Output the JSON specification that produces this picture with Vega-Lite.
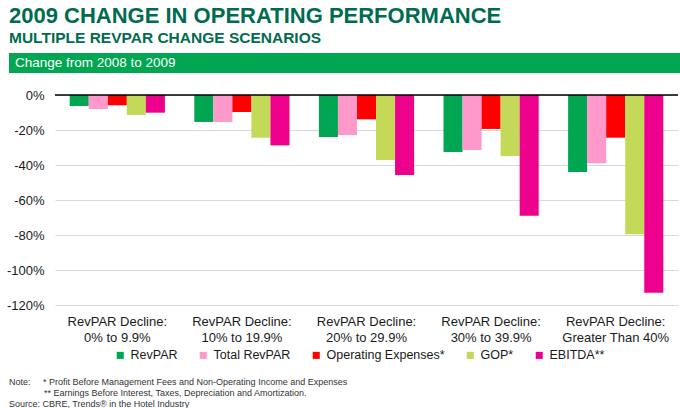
{
  "$schema": "https://vega.github.io/schema/vega-lite/v6.json",
  "padding": {"left": 6, "top": 4, "right": 0, "bottom": 0},
  "background": "white",
  "columns": 1,
  "align": "none",
  "spacing": 16,
  "resolve": {"scale": {"color": "independent", "x": "independent", "y": "independent"}, "legend": {"color": "independent"}},
  "config": {
    "font": "Liberation Sans",
    "view": {"stroke": null},
    "text": {"font": "Liberation Sans"}
  },
  "datasets": {
    "perf": [
      {"scenario": "0% to 9.9%", "measure": "RevPAR", "value": -6.3},
      {"scenario": "0% to 9.9%", "measure": "Total RevPAR", "value": -8.0},
      {"scenario": "0% to 9.9%", "measure": "Operating Expenses*", "value": -5.9},
      {"scenario": "0% to 9.9%", "measure": "GOP*", "value": -11.4},
      {"scenario": "0% to 9.9%", "measure": "EBITDA**", "value": -10.1},
      {"scenario": "10% to 19.9%", "measure": "RevPAR", "value": -15.4},
      {"scenario": "10% to 19.9%", "measure": "Total RevPAR", "value": -15.4},
      {"scenario": "10% to 19.9%", "measure": "Operating Expenses*", "value": -9.7},
      {"scenario": "10% to 19.9%", "measure": "GOP*", "value": -24.4},
      {"scenario": "10% to 19.9%", "measure": "EBITDA**", "value": -28.8},
      {"scenario": "20% to 29.9%", "measure": "RevPAR", "value": -24.0},
      {"scenario": "20% to 29.9%", "measure": "Total RevPAR", "value": -22.9},
      {"scenario": "20% to 29.9%", "measure": "Operating Expenses*", "value": -13.9},
      {"scenario": "20% to 29.9%", "measure": "GOP*", "value": -37.1},
      {"scenario": "20% to 29.9%", "measure": "EBITDA**", "value": -45.7},
      {"scenario": "30% to 39.9%", "measure": "RevPAR", "value": -32.6},
      {"scenario": "30% to 39.9%", "measure": "Total RevPAR", "value": -31.4},
      {"scenario": "30% to 39.9%", "measure": "Operating Expenses*", "value": -19.4},
      {"scenario": "30% to 39.9%", "measure": "GOP*", "value": -34.9},
      {"scenario": "30% to 39.9%", "measure": "EBITDA**", "value": -69.0},
      {"scenario": "Greater Than 40%", "measure": "RevPAR", "value": -44.0},
      {"scenario": "Greater Than 40%", "measure": "Total RevPAR", "value": -39.0},
      {"scenario": "Greater Than 40%", "measure": "Operating Expenses*", "value": -24.4},
      {"scenario": "Greater Than 40%", "measure": "GOP*", "value": -79.6},
      {"scenario": "Greater Than 40%", "measure": "EBITDA**", "value": -113.0}
    ]
  },
  "concat": [
    {
      "width": 672,
      "height": 20,
      "view": {"fill": "#00a651", "stroke": null},
      "title": {
        "text": "2009 CHANGE IN OPERATING PERFORMANCE",
        "subtitle": "MULTIPLE REVPAR CHANGE SCENARIOS",
        "anchor": "start",
        "frame": "group",
        "font": "Liberation Sans",
        "fontSize": 22,
        "fontWeight": "bold",
        "color": "#006b4f",
        "subtitleFont": "Liberation Sans",
        "subtitleFontSize": 15.5,
        "subtitleFontWeight": "bold",
        "subtitleColor": "#006b4f",
        "subtitlePadding": 3,
        "offset": 6
      },
      "data": {"values": [{"label": "Change from 2008 to 2009"}]},
      "mark": {"type": "text", "align": "left", "baseline": "middle", "color": "white", "fontSize": 13.5, "dx": 6},
      "encoding": {
        "x": {"field": "label", "type": "nominal", "axis": null, "scale": {"type": "point", "padding": 0, "align": 0}},
        "text": {"field": "label"}
      }
    },
    {
      "spacing": 0,
      "resolve": {"scale": {"color": "independent"}, "legend": {"color": "independent"}},
      "hconcat": [
        {
          "width": 45,
          "height": 210,
          "data": {"name": "perf"},
          "mark": {"type": "rule", "opacity": 0},
          "encoding": {
            "y": {
              "field": "value",
              "type": "quantitative",
              "scale": {"domain": [-120, 0], "nice": false},
              "axis": {
                "title": null,
                "orient": "right",
                "labelAlign": "right",
                "values": [-120, -100, -80, -60, -40, -20, 0],
                "labelOverlap": false,
                "labelExpr": "datum.value + '%'",
                "domain": false,
                "ticks": false,
                "grid": false,
                "labelFontSize": 13,
                "labelColor": "#1a1a1a",
                "labelPadding": -10
              }
            }
          }
        },
        {
          "width": 623,
          "height": 210,
          "resolve": {"axis": {"y": "independent"}},
          "layer": [
            {
              "data": {"name": "perf"},
              "mark": {"type": "bar"},
              "encoding": {
                "x": {
                  "field": "scenario",
                  "type": "nominal",
                  "sort": ["0% to 9.9%", "10% to 19.9%", "20% to 29.9%", "30% to 39.9%", "Greater Than 40%"],
                  "scale": {"paddingInner": 0.236, "paddingOuter": 0.118},
                  "axis": {
                    "title": null,
                    "labelAngle": 0,
                    "domain": false,
                    "ticks": false,
                    "labelFontSize": 13,
                    "labelColor": "#1a1a1a",
                    "labelLineHeight": 16,
                    "labelPadding": 10.5,
                    "labelExpr": "['RevPAR Decline:', datum.label]"
                  }
                },
                "xOffset": {
                  "field": "measure",
                  "type": "nominal",
                  "sort": ["RevPAR", "Total RevPAR", "Operating Expenses*", "GOP*", "EBITDA**"],
                  "scale": {"paddingInner": 0, "paddingOuter": 0}
                },
                "y": {
                  "field": "value",
                  "type": "quantitative",
                  "scale": {"domain": [-120, 0], "nice": false},
                  "axis": {
                    "title": null,
                    "values": [-120, -100, -80, -60, -40, -20, 0],
                    "labels": false,
                    "domain": false,
                    "ticks": false,
                    "gridColor": "#d9d9d9",
                    "gridWidth": 1
                  }
                },
                "color": {
                  "field": "measure",
                  "type": "nominal",
                  "scale": {
                    "domain": ["RevPAR", "Total RevPAR", "Operating Expenses*", "GOP*", "EBITDA**"],
                    "range": ["#00a651", "#ff99cc", "#ff0000", "#c4d957", "#ec008c"]
                  },
                  "legend": {
                    "title": null,
                    "orient": "none",
                    "legendX": 59,
                    "legendY": 254,
                    "padding": 0,
                    "direction": "horizontal",
                    "symbolType": "square",
                    "symbolSize": 50,
                    "symbolStrokeWidth": 0,
                    "labelFontSize": 12.5,
                    "labelColor": "#1a1a1a",
                    "labelOffset": 4,
                    "columnPadding": 19
                  }
                }
              }
            },
            {
              "data": {"values": [{"v": 0}]},
              "mark": {"type": "rule", "color": "#000000", "strokeWidth": 1.5},
              "encoding": {"y": {"field": "v", "type": "quantitative", "axis": null}}
            }
          ]
        }
      ]
    },
    {
      "width": 672,
      "height": 32,
      "data": {"values": [
        {"section": "notes", "line": 1, "text": "Note:\u00a0\u00a0\u00a0\u00a0\u00a0* Profit Before Management Fees and Non-Operating Income and Expenses"},
        {"section": "notes", "line": 2, "text": "\u200b\u00a0\u00a0\u00a0\u00a0\u00a0\u00a0\u00a0\u00a0\u00a0\u00a0\u00a0\u00a0\u00a0\u00a0** Earnings Before Interest, Taxes, Depreciation and Amortization."},
        {"section": "notes", "line": 3, "text": "Source: CBRE, Trends\u00ae in the Hotel Industry"}
      ]},
      "mark": {"type": "text", "align": "left", "baseline": "middle", "fontSize": 9, "color": "#333333", "dy": -14},
      "encoding": {
        "x": {"field": "section", "type": "nominal", "axis": null, "scale": {"type": "point", "padding": 0, "align": 0}},
        "y": {"field": "line", "type": "ordinal", "axis": null},
        "text": {"field": "text"}
      }
    }
  ]
}
